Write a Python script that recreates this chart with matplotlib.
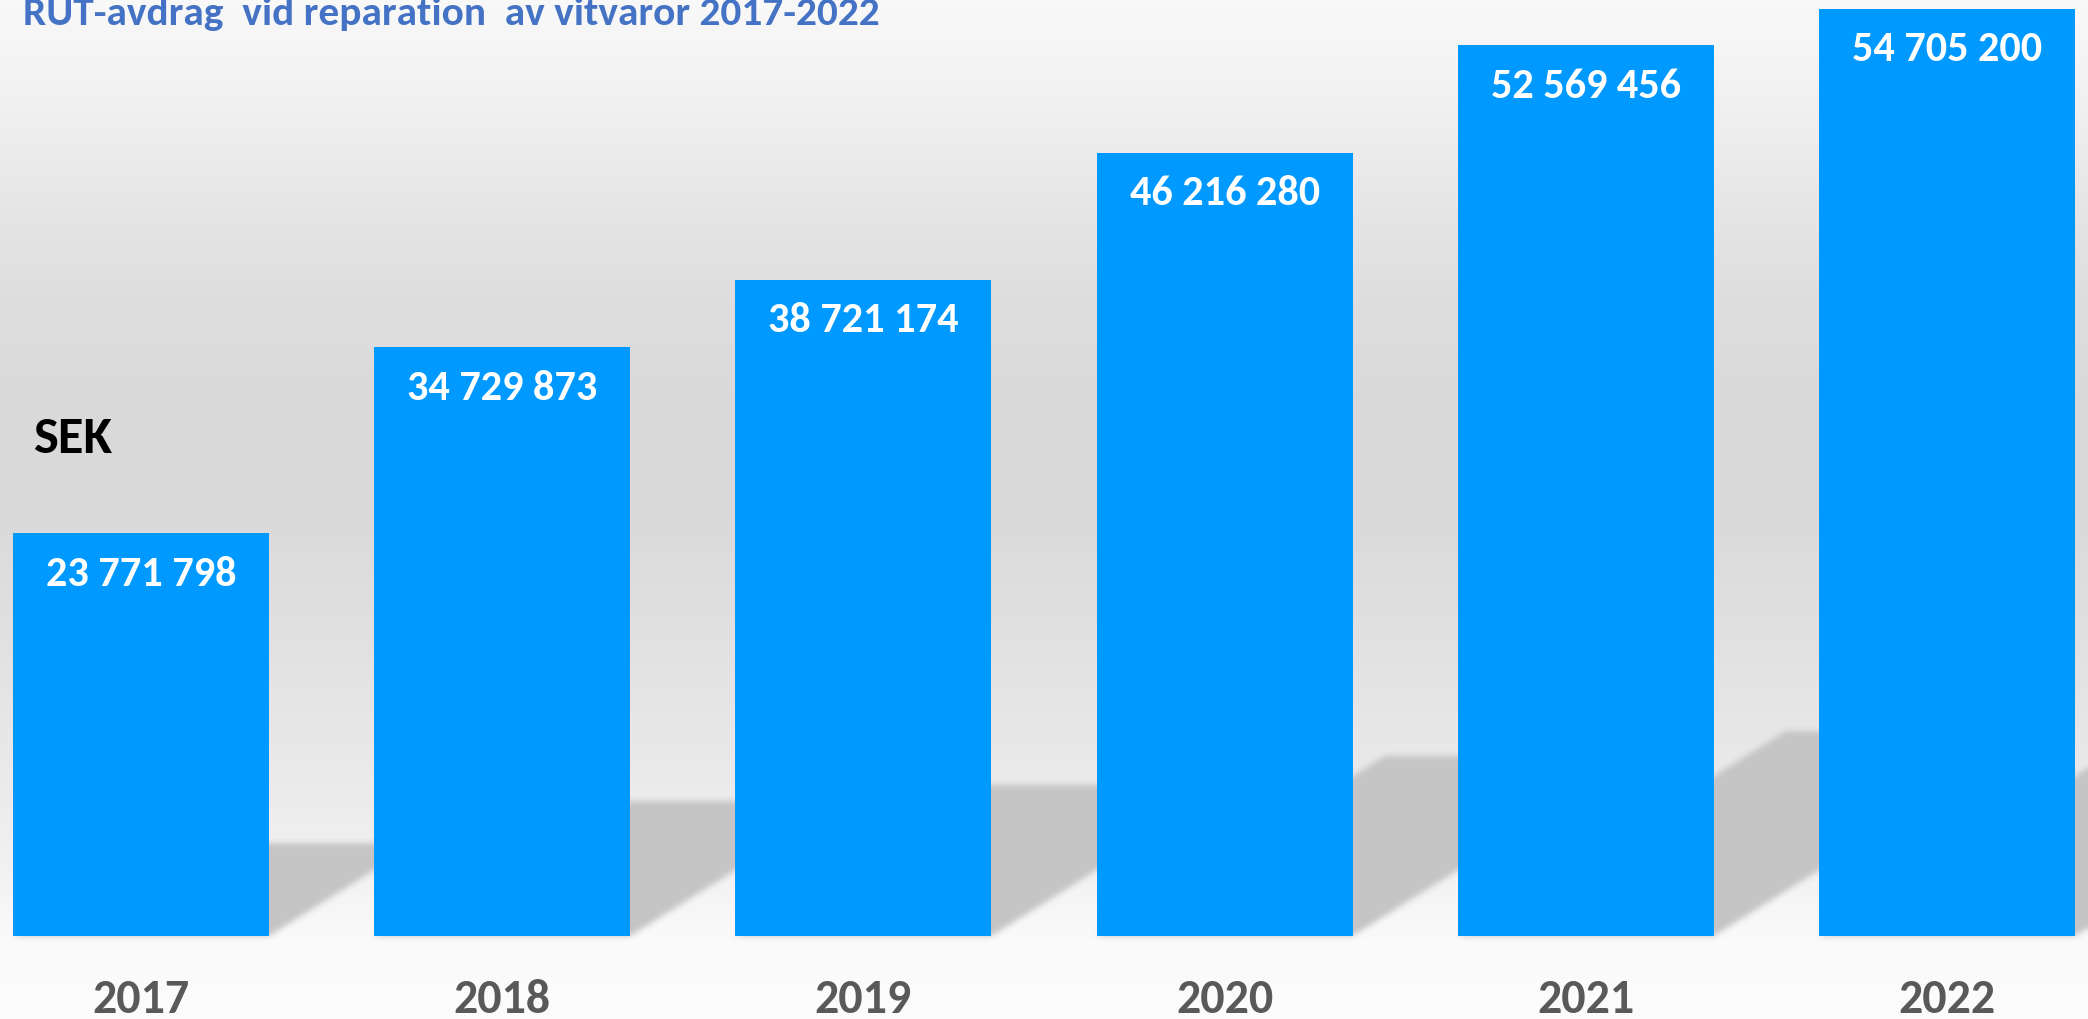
import numpy as np
import matplotlib
matplotlib.use('Agg')
import matplotlib.pyplot as plt
from matplotlib.path import Path
from matplotlib.transforms import blended_transform_factory

# ---------------- data ----------------
years = ['2017', '2018', '2019', '2020', '2021', '2022']
values = [23771798, 34729873, 38721174, 46216280, 52569456, 54705200]
value_labels = [f"{v:,}".replace(",", " ") for v in values]
title = "RUT-avdrag  vid reparation  av vitvaror 2017-2022"
unit_label = "SEK"

# ---------------- styling ----------------
FAM = ['Carlito', 'Open Sans', 'DejaVu Sans']
BAR_COLOR = '#0099FF'
TITLE_COLOR = '#4472C4'
YEAR_COLOR = '#595959'
SHADOW_GRAY = 0.776

W, H = 2088, 1019
fig = plt.figure(figsize=(W / 100, H / 100), dpi=100)
ax = fig.add_axes([0, 0, 1, 1])
xlim = (-0.3904, 5.3904)
ylim = (-4.898e6, 55.234e6)
ax.set_xlim(*xlim)
ax.set_ylim(*ylim)
ax.axis('off')

# background vertical gradient (rows from top)
stops_y = np.array([0, 60, 200, 300, 420, 500, 650, 800, 880, 935, 1019])
stops_v = np.array([.975, .96, .905, .87, .851, .851, .885, .925, .952, .98, .988])
rows = np.interp(np.arange(H) + 0.5, stops_y, stops_v)
bg = np.repeat(rows[:, None, None], 3, axis=2)
ax.imshow(bg, extent=[*xlim, *ylim], aspect='auto', origin='upper',
          zorder=0, interpolation='bilinear')

# ---------------- perspective shadows ----------------
x = np.arange(len(values))
bw = 0.709
T = ax.transData
mask = np.zeros((H, W))
for xi, v in zip(x, values):
    (xl, y0), (xr, yt) = T.transform([(xi - bw / 2, 0), (xi + bw / 2, v)])
    hs = 0.23 * (yt - y0)
    dx = 1.6 * hs
    poly = Path([(xl, y0), (xr, y0), (xr + dx, y0 + hs), (xl + dx, y0 + hs), (xl, y0)])
    x0i, x1i = max(int(xl) - 1, 0), min(int(xr + dx) + 2, W)
    y0i, y1i = max(int(y0) - 1, 0), min(int(y0 + hs) + 2, H)
    gx, gy = np.meshgrid(np.arange(x0i, x1i) + 0.5, np.arange(y0i, y1i) + 0.5)
    inside = poly.contains_points(np.column_stack([gx.ravel(), gy.ravel()]))
    sub = inside.reshape(gx.shape).astype(float)
    mask[y0i:y1i, x0i:x1i] = np.maximum(mask[y0i:y1i, x0i:x1i], sub)


def box(a, r, axis):
    a = np.moveaxis(a, axis, 0)
    p = np.pad(a, ((r + 1, r),) + ((0, 0),) * (a.ndim - 1), mode='edge')
    c = np.cumsum(p, axis=0)
    out = (c[2 * r + 1:] - c[:-2 * r - 1]) / (2 * r + 1)
    return np.moveaxis(out, 0, axis)


for _ in range(2):
    mask = box(mask, 3, 0)
    mask = box(mask, 3, 1)

shadow = np.zeros((H, W, 4))
shadow[..., :3] = SHADOW_GRAY
shadow[..., 3] = np.clip(mask, 0, 1)
ax.imshow(shadow, extent=[*xlim, *ylim], aspect='auto', origin='lower',
          zorder=1, interpolation='nearest')
ax.set_xlim(*xlim)
ax.set_ylim(*ylim)

# ---------------- bars ----------------
ax.bar(x, values, width=bw, color=BAR_COLOR, linewidth=0, zorder=3)

renderer = fig.canvas.get_renderer()


def fit(t, target):
    bb = t.get_window_extent(renderer)
    t.set_fontsize(t.get_fontsize() * target / bb.width)


# value labels
vtexts = []
for xi, v, lbl in zip(x, values, value_labels):
    t = ax.annotate(lbl, (xi, v), xytext=(0, -52.5), textcoords='offset pixels',
                    ha='center', va='baseline', color='white', fontweight='bold',
                    fontsize=27, family=FAM, zorder=4)
    vtexts.append(t)
fit(vtexts[0], 190)
for t in vtexts[1:]:
    t.set_fontsize(vtexts[0].get_fontsize())

# year labels
blend = blended_transform_factory(ax.transData, ax.transAxes)
ytexts = []
for xi, yr in zip(x, years):
    t = ax.text(xi, 6 / H, yr, transform=blend, ha='center', va='baseline',
                color=YEAR_COLOR, fontweight='bold', fontsize=30, family=FAM, zorder=4)
    ytexts.append(t)
fit(ytexts[0], 97)
for t in ytexts[1:]:
    t.set_fontsize(ytexts[0].get_fontsize())

# unit label
t = ax.text(33 / W, 566 / H, unit_label, transform=ax.transAxes, ha='left',
            va='baseline', color='black', fontweight='bold', fontsize=34,
            family=FAM, zorder=4)
fit(t, 79)

# title
t = ax.text(23 / W, 994 / H, title, transform=ax.transAxes, ha='left',
            va='baseline', color=TITLE_COLOR, fontweight='bold', fontsize=24,
            family=FAM, zorder=4)
fit(t, 855)

fig.savefig('out.png', dpi=100)
